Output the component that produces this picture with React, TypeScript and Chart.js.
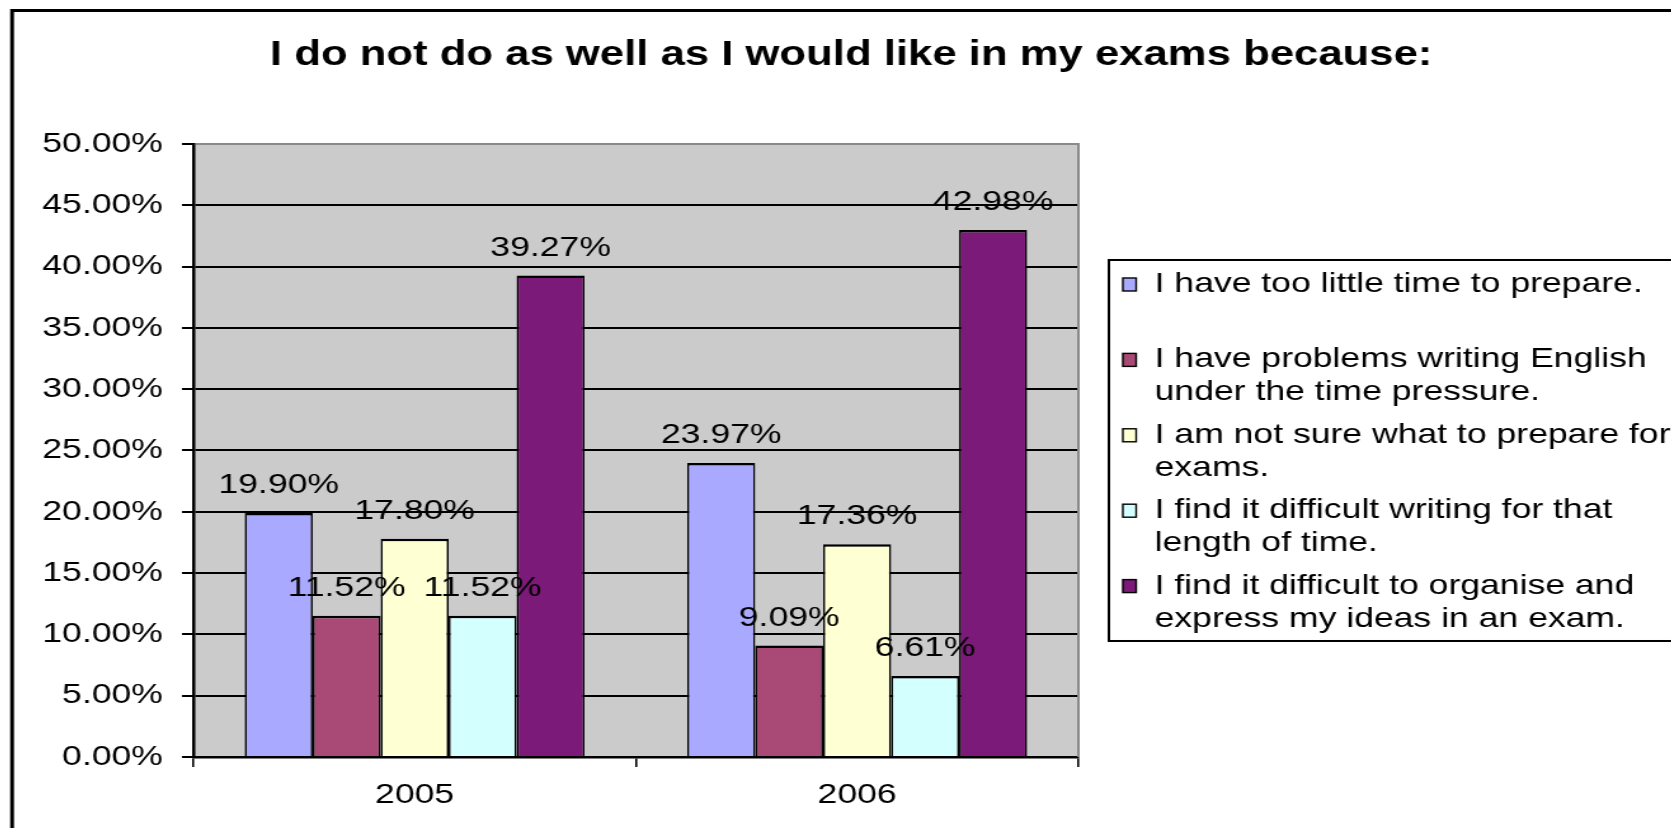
import React, { useEffect, useRef } from 'react';
import { Chart, registerables, layouts } from 'chart.js';

Chart.register(...registerables);

// ---- data ----
const chartTitle = 'I do not do as well as I would like in my exams because:';
const categories = ['2005', '2006'];
const seriesNames = [
  'I have too little time to prepare.',
  'I have problems writing English under the time pressure.',
  'I am not sure what to prepare for exams.',
  'I find it difficult writing for that length of time.',
  'I find it difficult to organise and express my ideas in an exam.',
];
const legendLines = [
  ['I have too little time to prepare.'],
  ['I have problems writing English', 'under the time pressure.'],
  ['I am not sure what to prepare for', 'exams.'],
  ['I find it difficult writing for that', 'length of time.'],
  ['I find it difficult to organise and', 'express my ideas in an exam.'],
];
const tooLittleTime = [19.9, 23.97];
const writingEnglish = [11.52, 9.09];
const notSure = [17.8, 17.36];
const writingLength = [11.52, 6.61];
const organiseIdeas = [39.27, 42.98];
const seriesValues = [tooLittleTime, writingEnglish, notSure, writingLength, organiseIdeas];
const seriesColors = ['#a9a9ff', '#a94a76', '#ffffd4', '#d4ffff', '#7b1a78'];
const yMin = 0;
const yMax = 50;
const yStep = 5;
const formatPct = (v: number) => `${v.toFixed(2)}%`;

// ---- presentation ----
const CANVAS_W = 1316;
const CANVAS_H = 820;
const CSS_W = 1671;
const FONT = "'Liberation Sans', Arial, Helvetica, sans-serif";

function makeLegendBox(chart: any) {
  const box: any = {
    position: 'right',
    weight: 0,
    fullSize: false,
    options: { stack: undefined, stackWeight: 1, display: true },
    left: 0, top: 0, right: 0, bottom: 0, width: 0, height: 0,
    isHorizontal() { return false; },
    update(_maxWidth: number, maxHeight: number) {
      this.width = 473;
      this.height = maxHeight;
    },
    draw() {
      const ctx = chart.ctx;
      const area = chart.chartArea;
      const boxLeft = this.left + 24;
      const boxRight = this.right - 2;
      const boxH = 381;
      const boxTop = (area.top + area.bottom) / 2 - boxH / 2;
      ctx.save();
      ctx.fillStyle = '#ffffff';
      ctx.fillRect(boxLeft, boxTop, boxRight - boxLeft, boxH);
      ctx.lineWidth = 2;
      ctx.strokeStyle = '#000';
      ctx.strokeRect(boxLeft, boxTop, boxRight - boxLeft, boxH);
      ctx.font = `28px ${FONT}`;
      ctx.textAlign = 'left';
      ctx.textBaseline = 'alphabetic';
      chart.data.datasets.forEach((ds: any, i: number) => {
        const baseY = boxTop + 32 + i * 75.4;
        ctx.fillStyle = ds.backgroundColor;
        ctx.fillRect(boxLeft + 11, baseY - 14, 10.5, 13);
        ctx.lineWidth = 1.4;
        ctx.strokeStyle = '#000';
        ctx.strokeRect(boxLeft + 11, baseY - 14, 10.5, 13);
        ctx.fillStyle = '#000';
        legendLines[i].forEach((line, k) => {
          ctx.fillText(line, boxLeft + 36, baseY + k * 33);
        });
      });
      ctx.restore();
    },
  };
  return box;
}

const legendPlugin = {
  id: 'excelLegend',
  beforeInit(chart: any) {
    layouts.addBox(chart, makeLegendBox(chart));
  },
};

const framePlugin = {
  id: 'excelFrame',
  beforeDraw(chart: any) {
    const { ctx, chartArea } = chart;
    ctx.save();
    ctx.fillStyle = '#cbcbcb';
    ctx.fillRect(chartArea.left, chartArea.top, chartArea.right - chartArea.left, chartArea.bottom - chartArea.top);
    ctx.lineWidth = 3;
    ctx.strokeStyle = '#000';
    ctx.strokeRect(3.2, 2.5, chart.width + 40, chart.height + 40);
    ctx.restore();
  },
  beforeDatasetsDraw(chart: any) {
    const { ctx, chartArea } = chart;
    ctx.save();
    ctx.lineWidth = 2;
    ctx.strokeStyle = '#8a8a8a';
    ctx.beginPath();
    ctx.moveTo(chartArea.right, chartArea.top - 1);
    ctx.lineTo(chartArea.right, chartArea.bottom);
    ctx.stroke();
    ctx.restore();
  },
};

const valueLabelPlugin = {
  id: 'valueLabels',
  afterDatasetsDraw(chart: any) {
    const ctx = chart.ctx;
    ctx.save();
    ctx.font = `28px ${FONT}`;
    ctx.fillStyle = '#000';
    ctx.textAlign = 'center';
    ctx.textBaseline = 'alphabetic';
    chart.data.datasets.forEach((ds: any, i: number) => {
      chart.getDatasetMeta(i).data.forEach((el: any, j: number) => {
        ctx.fillText(formatPct(Number(ds.data[j])), el.x, el.y - 20);
      });
    });
    ctx.restore();
  },
};

export default function App() {
  const canvasRef = useRef<HTMLCanvasElement | null>(null);

  useEffect(() => {
    const canvas = canvasRef.current;
    if (!canvas) return;
    const chart = new Chart(canvas, {
      type: 'bar',
      data: {
        labels: categories,
        datasets: seriesNames.map((name, i) => ({
          label: name,
          data: seriesValues[i],
          backgroundColor: seriesColors[i],
          borderColor: '#000',
          borderWidth: { top: 2.5, left: 1.6, right: 1.6, bottom: 0 },
          borderSkipped: false,
          barPercentage: 1,
          categoryPercentage: 0.768,
        })),
      },
      options: {
        responsive: false,
        maintainAspectRatio: false,
        devicePixelRatio: 1,
        animation: false,
        events: [],
        layout: { padding: { left: 12, right: 0, top: 0, bottom: 0 } },
        plugins: {
          legend: { display: false },
          tooltip: { enabled: false },
          title: {
            display: true,
            text: chartTitle,
            color: '#000',
            font: { family: FONT, size: 34.4, weight: 'bold', lineHeight: 1.2 },
            padding: { top: 27, bottom: 67.7 },
          },
        },
        scales: {
          x: {
            type: 'category',
            offset: true,
            grid: {
              offset: true,
              drawOnChartArea: false,
              drawTicks: true,
              tickLength: 10,
              color: '#000',
              lineWidth: 1.6,
            },
            border: { display: true, color: '#000', width: 2.5 },
            ticks: {
              color: '#000',
              font: { family: FONT, size: 28 },
              padding: 11.5,
              maxRotation: 0,
            },
            afterFit: (scale: any) => { scale.height = 71; },
          },
          y: {
            type: 'linear',
            min: yMin,
            max: yMax,
            ticks: {
              stepSize: yStep,
              color: '#000',
              font: { family: FONT, size: 28 },
              padding: 15,
              callback: (v: any) => formatPct(Number(v)),
            },
            grid: {
              color: (c: any) => (c.tick && c.tick.value === yMax ? '#8a8a8a' : '#000'),
              lineWidth: 2,
              tickColor: '#000',
              tickLength: 9,
              drawTicks: true,
            },
            border: { display: true, color: '#000', width: 2.5 },
            afterFit: (scale: any) => { scale.width = 134; },
          },
        },
      },
      plugins: [legendPlugin, framePlugin, valueLabelPlugin],
    } as any);
    return () => chart.destroy();
  }, []);

  return (
    <div style={{ width: CSS_W, height: CANVAS_H, overflow: 'hidden' }}>
      <canvas
        ref={canvasRef}
        width={CANVAS_W}
        height={CANVAS_H}
        style={{ width: `${CSS_W}px`, height: `${CANVAS_H}px`, display: 'block' }}
      />
    </div>
  );
}
